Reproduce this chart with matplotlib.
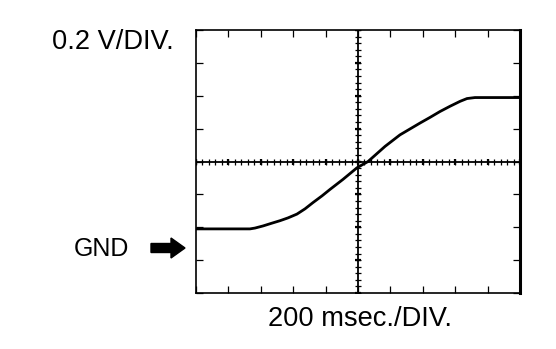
import numpy as np
import matplotlib
matplotlib.use("Agg")
import matplotlib.pyplot as plt
from matplotlib.patches import Polygon

# Scope trace: time (msec) from the left edge of the screen, voltage (V) about screen centre
time_ms = [0, 333, 364, 414, 469, 519, 568, 623, 673, 722, 778, 827, 907,
           994, 1062, 1167, 1259, 1321, 1383, 1444, 1506, 1568, 1630, 1673,
           1722, 2000]
volts = [-0.410, -0.410, -0.405, -0.392, -0.375, -0.360, -0.343, -0.320,
         -0.288, -0.250, -0.209, -0.170, -0.109, -0.038, 0.0, 0.092, 0.162,
         0.198, 0.234, 0.268, 0.304, 0.336, 0.366, 0.383, 0.389, 0.389]

volt_label = "0.2 V/DIV."
time_label = "200 msec./DIV."
gnd_label = "GND"

TIME_DIV = 200.0   # msec per division
VOLT_DIV = 0.2     # volts per division
N_XDIV, N_YDIV = 10, 8

plt.rcParams['font.family'] = ['Liberation Sans', 'DejaVu Sans']

W, H = 556, 349
fig = plt.figure(figsize=(W / 100, H / 100), dpi=100)
left, right, top, bottom = 196, 520, 30, 293
ax = fig.add_axes([left / W, 1 - bottom / H, (right - left) / W, (bottom - top) / H])

x0, x1 = 0, N_XDIV * TIME_DIV
y0, y1 = -N_YDIV / 2 * VOLT_DIV, N_YDIV / 2 * VOLT_DIV
ax.set_xlim(x0, x1)
ax.set_ylim(y0, y1)

# Screen frame with inward division ticks on all four sides
for name, sp in ax.spines.items():
    sp.set_linewidth(1.2)
    sp.set_color("black")
ax.spines['right'].set_linewidth(2.2)
ax.set_xticks(np.arange(x0, x1 + 1, TIME_DIV))
ax.set_yticks(np.arange(y0, y1 + 1e-9, VOLT_DIV))
ax.tick_params(which='major', direction='in', length=4.8, width=0.9,
               top=True, right=True, labelbottom=False, labelleft=False)

# Centre graticule lines with fine sub-division marks
xc = (x0 + x1) / 2
ax.axhline(0, color='black', lw=1.3, zorder=2)
ax.axvline(xc, color='black', lw=1.3, zorder=2)
sub_x = np.arange(x0, x1 + 1, TIME_DIV / 5)
sub_y = np.arange(y0, y1 + 1e-9, VOLT_DIV / 5)
ax.plot(sub_x, np.zeros_like(sub_x), ls='none', marker='|', ms=4.5,
        mew=0.9, color='black', zorder=2)
ax.plot(np.full_like(sub_y, xc), sub_y, ls='none', marker='_', ms=4.5,
        mew=0.9, color='black', zorder=2)
major_x = np.arange(x0, x1 + 1, TIME_DIV)
major_y = np.arange(y0, y1 + 1e-9, VOLT_DIV)
ax.plot(major_x, np.zeros_like(major_x), ls='none', marker='|', ms=5,
        mew=1.6, color='black', zorder=2)
ax.plot(np.full_like(major_y, xc), major_y, ls='none', marker='_', ms=5,
        mew=1.6, color='black', zorder=2)

# Waveform
ax.plot(time_ms, volts, color='black', lw=2.0, solid_joinstyle='round',
        solid_capstyle='butt', zorder=3)

# Labels
fig.text(52 / W, 1 - 42 / H, volt_label, fontsize=19.6, ha='left', va='center')
fig.text(74 / W, 1 - 249 / H, gnd_label, fontsize=18, ha='left', va='center')
fig.text(360 / W, 1 - 319 / H, time_label, fontsize=19.6, ha='center', va='center')

# Ground marker arrow
cy = 248
arrow_px = [(151, cy - 4.5), (171, cy - 4.5), (171, cy - 10), (185, cy),
            (171, cy + 10), (171, cy + 4.5), (151, cy + 4.5)]
arrow = Polygon([(px / W, 1 - py / H) for px, py in arrow_px],
                closed=True, transform=fig.transFigure, color='black')
fig.patches.append(arrow)

fig.savefig("out.png", dpi=100, facecolor='white')
